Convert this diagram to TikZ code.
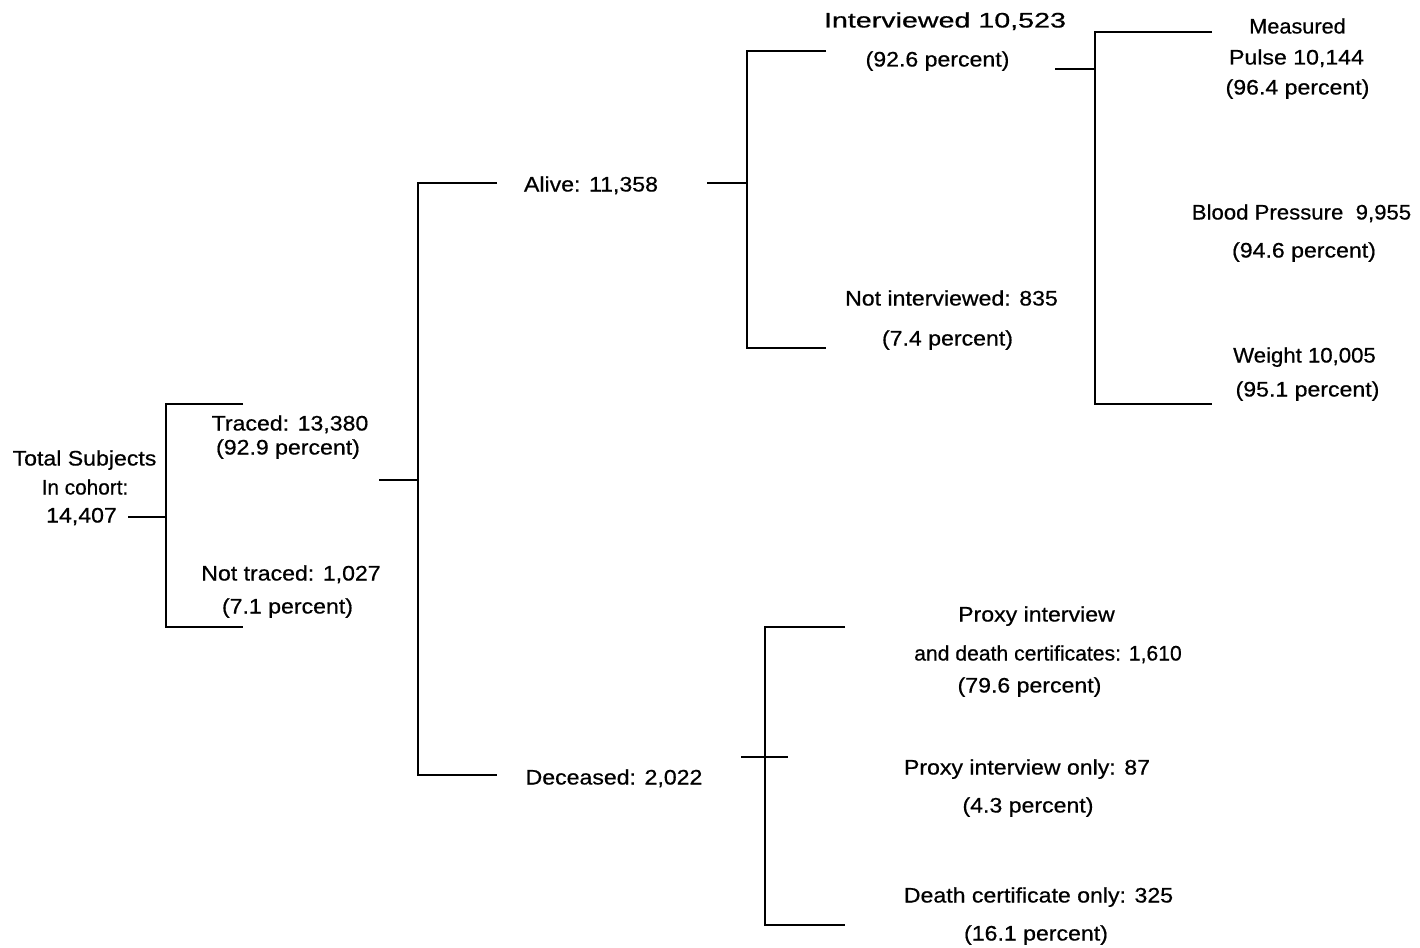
\documentclass[tikz,border=0pt]{standalone}
\usepackage{fontspec}
\usepackage{graphicx}
\setmainfont[FakeStretch=1.1,FakeBold=0.6]{Liberation Sans}
\begin{document}
\begin{tikzpicture}[x=1pt,y=-1pt,
  lbl/.style={inner sep=0pt, anchor=center, text height=15pt, text depth=0pt,
              font=\fontsize{21}{24}\selectfont},
  conn/.style={line width=2pt, line cap=butt, line join=miter}]
\useasboundingbox (0,0) rectangle (1420,947);

% ---- labels ----
\node[lbl] (total1) at (84.5,458) {Total Subjects};
\node[lbl] (total2) at (85,487) {\scalebox{0.9}[1]{In cohort:}};
\node[lbl] (total3) at (81.5,515) {14,407};

\node[lbl] (traced1) at (290,423) {Traced: 13,380};
\node[lbl] (traced2) at (288,447) {(92.9 percent)};
\node[lbl] (nottr1) at (291,573) {Not traced: 1,027};
\node[lbl] (nottr2) at (287.5,606) {(7.1 percent)};

\node[lbl] (alive) at (591,184) {Alive: 11,358};
\node[lbl] (deceased) at (614,777) {Deceased: 2,022};

\node[lbl] (int1) at (945,20) {\scalebox{1.24}[1]{Interviewed 10,523}};
\node[lbl] (int2) at (937.5,59) {(92.6 percent)};
\node[lbl] (notint1) at (951.5,298) {Not interviewed: 835};
\node[lbl] (notint2) at (947.5,338) {(7.4 percent)};

\node[lbl] (meas1) at (1297.5,26) {\scalebox{0.94}[1]{Measured}};
\node[lbl] (meas2) at (1296.5,57) {Pulse 10,144};
\node[lbl] (meas3) at (1297.5,87) {(96.4 percent)};
\node[lbl] (bp1) at (1301.5,212) {\scalebox{0.96}[1]{Blood Pressure\ \ 9,955}};
\node[lbl] (bp2) at (1304,250) {(94.6 percent)};
\node[lbl] (wt1) at (1304.5,355) {\scalebox{0.96}[1]{Weight 10,005}};
\node[lbl] (wt2) at (1307.5,389) {(95.1 percent)};

\node[lbl] (proxy1) at (1036.5,614) {Proxy interview};
\node[lbl] (proxy2) at (1048,653) {\scalebox{0.915}[1]{and death certificates: 1,610}};
\node[lbl] (proxy3) at (1029.5,685) {(79.6 percent)};
\node[lbl] (ponly1) at (1027,767) {Proxy interview only: 87};
\node[lbl] (ponly2) at (1028,805) {(4.3 percent)};
\node[lbl] (dcert1) at (1038.5,895) {Death certificate only: 325};
\node[lbl] (dcert2) at (1036,933) {(16.1 percent)};

% ---- bracket coordinates ----
\coordinate (r0) at (128,517);  \coordinate (r1) at (166,517);
\coordinate (rt) at (243,404);  \coordinate (rb) at (243,627);
\coordinate (rtv) at (166,404); \coordinate (rbv) at (166,627);

\coordinate (m0) at (379,480);  \coordinate (m1) at (418,480);
\coordinate (mt) at (497,183);  \coordinate (mb) at (497,775);
\coordinate (mtv) at (418,183); \coordinate (mbv) at (418,775);

\coordinate (a0) at (707,183);  \coordinate (a1) at (747,183);
\coordinate (at) at (826,51);   \coordinate (ab) at (826,348);
\coordinate (atv) at (747,51);  \coordinate (abv) at (747,348);

\coordinate (i0) at (1055,69);  \coordinate (i1) at (1095,69);
\coordinate (it) at (1212,32);  \coordinate (ib) at (1212,404);
\coordinate (itv) at (1095,32); \coordinate (ibv) at (1095,404);

\coordinate (d0) at (741,757);  \coordinate (d1) at (788,757);
\coordinate (dt) at (845,627);  \coordinate (db) at (845,925);
\coordinate (dtv) at (765,627); \coordinate (dbv) at (765,925);

% ---- connectors ----
\draw[conn] (r0) -- (r1);
\draw[conn] (rt) -- (rtv) -- (rbv) -- (rb);
\draw[conn] (m0) -- (m1);
\draw[conn] (mt) -- (mtv) -- (mbv) -- (mb);
\draw[conn] (a0) -- (a1);
\draw[conn] (at) -- (atv) -- (abv) -- (ab);
\draw[conn] (i0) -- (i1);
\draw[conn] (it) -- (itv) -- (ibv) -- (ib);
\draw[conn] (d0) -- (d1);
\draw[conn] (dt) -- (dtv) -- (dbv) -- (db);
\end{tikzpicture}
\end{document}
